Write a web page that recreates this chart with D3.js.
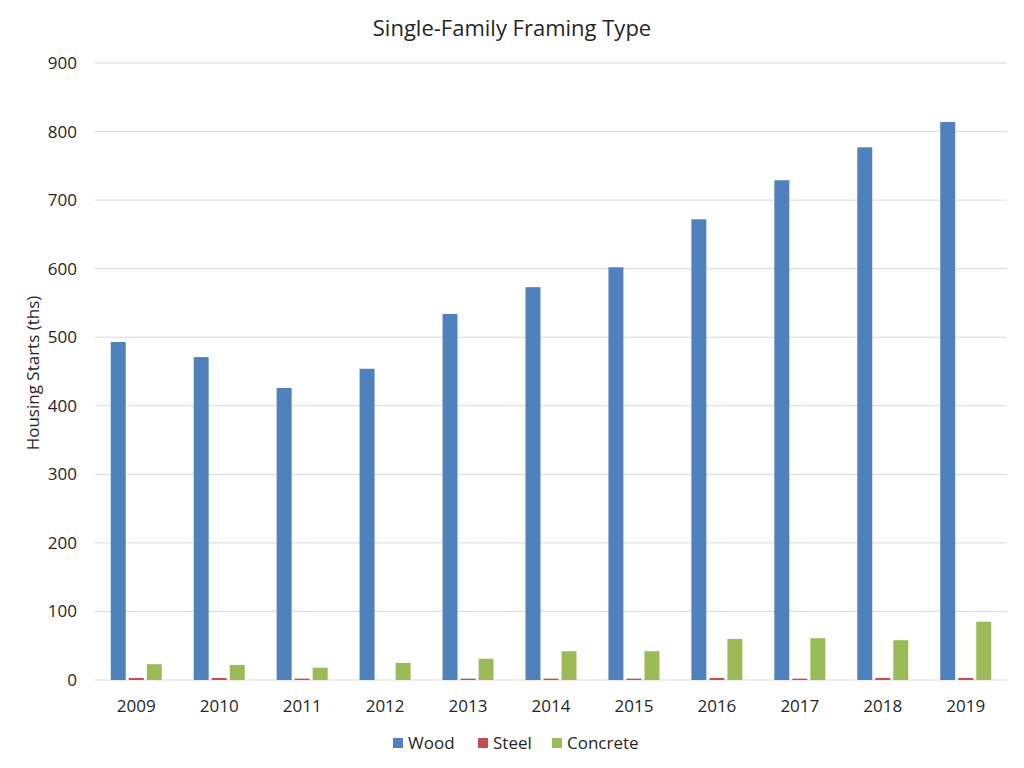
<!DOCTYPE html>
<html>
<head>
<meta charset="utf-8">
<script src="https://cdn.jsdelivr.net/npm/d3@7"></script>
<style>
  body { margin: 0; background: #fff; }
  text { font-family: "Open Sans", "Noto Sans", sans-serif; fill: #262626; }
</style>
</head>
<body>
<svg width="1024" height="768"></svg>
<script>
const years = ["2009", "2010", "2011", "2012", "2013", "2014", "2015", "2016", "2017", "2018", "2019"];
const wood = [493, 471, 426, 454, 534, 573, 602, 672, 729, 777, 814];
const steel = [3, 3, 2, 0, 2, 2, 2, 3, 2, 3, 3];
const concrete = [23, 22, 18, 25, 31, 42, 42, 60, 61, 58, 85];
const seriesNames = ["Wood", "Steel", "Concrete"];
const yTicks = [0, 100, 200, 300, 400, 500, 600, 700, 800, 900];

const colors = { Wood: "#4F81BD", Steel: "#C0504D", Concrete: "#9BBB59" };
const values = { Wood: wood, Steel: steel, Concrete: concrete };

const svg = d3.select("svg");
const margin = { top: 63, right: 17, bottom: 88, left: 95 };
const width = 1024 - margin.left - margin.right;
const height = 768 - margin.top - margin.bottom;

const g = svg.append("g")
    .attr("transform", `translate(${margin.left},${margin.top})`);

const x = d3.scaleBand().domain(years).range([0, width]).paddingInner(0.385).paddingOuter(0.19);
const xs = d3.scaleBand().domain(seriesNames).range([0, x.bandwidth()]).paddingInner(0.17);
const y = d3.scaleLinear().domain([0, 900]).range([height, 0]);

// gridlines
g.append("g")
    .selectAll("line")
    .data(yTicks)
    .enter()
    .append("line")
    .attr("x1", 0)
    .attr("x2", width)
    .attr("y1", d => y(d))
    .attr("y2", d => y(d))
    .attr("stroke", "#d9d9d9")
    .attr("stroke-width", 1);

// y tick labels
const yAxis = g.append("g")
    .call(d3.axisLeft(y).tickValues(yTicks).tickSize(0).tickPadding(18));
yAxis.select(".domain").remove();
yAxis.selectAll("text").style("font-size", "17px");

// x tick labels
const xAxis = g.append("g")
    .attr("transform", `translate(0,${height})`)
    .call(d3.axisBottom(x).tickSize(0).tickPadding(20));
xAxis.select(".domain").remove();
xAxis.selectAll("text").style("font-size", "17px");

// bars
const groups = g.selectAll(".year")
    .data(years)
    .enter()
    .append("g")
    .attr("transform", d => `translate(${x(d)},0)`);

groups.selectAll("rect")
    .data((d, i) => seriesNames.map(s => ({ s, v: values[s][i] })))
    .enter()
    .append("rect")
    .attr("x", d => xs(d.s))
    .attr("width", xs.bandwidth())
    .attr("y", d => y(d.v))
    .attr("height", d => y(0) - y(d.v))
    .attr("fill", d => colors[d.s]);

// title
svg.append("text")
    .attr("x", 512)
    .attr("y", 36)
    .attr("text-anchor", "middle")
    .style("font-size", "22px")
    .text("Single-Family Framing Type");

// y axis label
svg.append("text")
    .attr("transform", "translate(39,373) rotate(-90)")
    .attr("text-anchor", "middle")
    .style("font-size", "17px")
    .text("Housing Starts (ths)");

// legend
const legendX = [393, 478, 552];
const legend = svg.append("g");
seriesNames.forEach((s, i) => {
    legend.append("rect")
        .attr("x", legendX[i])
        .attr("y", 738)
        .attr("width", 10)
        .attr("height", 10)
        .attr("fill", colors[s]);
    legend.append("text")
        .attr("x", legendX[i] + 15)
        .attr("y", 749)
        .style("font-size", "17px")
        .text(s);
});
</script>
</body>
</html>
